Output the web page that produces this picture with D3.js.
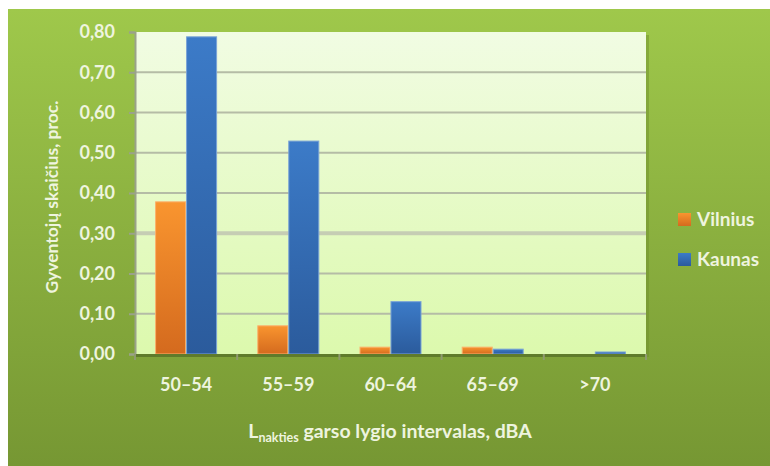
<!DOCTYPE html>
<html><head><meta charset="utf-8">
<script src="https://cdn.jsdelivr.net/npm/d3@7"></script>
<style>body{margin:0;background:#fff}svg{display:block}</style>
</head><body>
<script>
const categories = ["50–54","55–59","60–64","65–69",">70"];
const seriesNames = ["Vilnius","Kaunas"];
const vilnius = [0.378, 0.070, 0.017, 0.017, 0.0];
const kaunas = [0.788, 0.529, 0.130, 0.012, 0.005];
const yTicks = [0,0.1,0.2,0.3,0.4,0.5,0.6,0.7,0.8];

const W=770,H=466;
const FONT="Lato, 'Open Sans', sans-serif", TXT="#eef4df";
const svg=d3.select("body").append("svg").attr("width",W).attr("height",H);
const defs=svg.append("defs");
function grad(id,c1,c2){const g=defs.append("linearGradient").attr("id",id).attr("x1",0).attr("y1",0).attr("x2",0).attr("y2",1);
g.append("stop").attr("offset","0%").attr("stop-color",c1);g.append("stop").attr("offset","100%").attr("stop-color",c2);}
grad("bg","#9fc84b","#769733");
grad("plot","#f1fce3","#dcf9ad");
grad("or","#f9952f","#d46a1e");
grad("bl","#3c7bc8","#2b5b9c");

svg.append("rect").attr("x",8).attr("y",9).attr("width",W-8).attr("height",H-9).attr("fill","url(#bg)");

const m={l:135,r:646,t:32,b:354};
const x=d3.scaleBand().domain(categories).range([m.l,m.r]);
const x1=d3.scaleBand().domain(seriesNames).range([0,61]).paddingInner(0.03);
const y=d3.scaleLinear().domain([0,0.8]).range([m.b,m.t]);

// plot shadow
svg.append("rect").attr("x",m.l+3).attr("y",m.t+3).attr("width",m.r-m.l).attr("height",m.b-m.t).attr("fill","#6f8f2e").attr("opacity",0.5);
svg.append("rect").attr("x",m.l).attr("y",m.t).attr("width",m.r-m.l).attr("height",m.b-m.t).attr("fill","url(#plot)");

// gridlines
svg.append("g").selectAll("line").data(yTicks.filter(d=>d>0 && d<0.8)).join("line")
 .attr("x1",m.l).attr("x2",m.r).attr("y1",d=>y(d)).attr("y2",d=>y(d))
 .attr("stroke",d=>Math.abs(d-0.3)<1e-9?"#c6cdb4":"#b5bca6").attr("stroke-width",d=>Math.abs(d-0.3)<1e-9?4:2);

// y axis
const ya=svg.append("g").attr("transform",`translate(${m.l},0)`).call(d3.axisLeft(y).tickValues(yTicks).tickSize(6).tickPadding(14).tickFormat(d=>d3.format(".2f")(d).replace(".",",")));
ya.select(".domain").attr("stroke","#9aa28a").attr("stroke-width",2);
ya.selectAll(".tick line").attr("stroke","#9aa28a").attr("stroke-width",2);
ya.selectAll("text").attr("fill",TXT).style("font-family",FONT).style("font-size","18px").style("font-weight","bold");

// bars
const data=categories.map((c,i)=>({c,vals:[{s:"Vilnius",v:vilnius[i]},{s:"Kaunas",v:kaunas[i]}]}));
const g=svg.append("g").selectAll("g").data(data).join("g").attr("transform",d=>`translate(${x(d.c)+x.bandwidth()/2-30.5},0)`);
g.selectAll("rect").data(d=>d.vals).join("rect")
 .attr("x",d=>x1(d.s)).attr("width",x1.bandwidth())
 .attr("y",d=>y(d.v)).attr("height",d=>Math.max(0,m.b-y(d.v)))
 .attr("fill",d=>d.s==="Vilnius"?"url(#or)":"url(#bl)")
 .attr("stroke",d=>d.s==="Vilnius"?"#fbb06a":"#7aa3d6").attr("stroke-width",1);

// x axis
const xa=svg.append("g").attr("transform",`translate(0,${m.b})`).call(d3.axisBottom(x).tickSize(0).tickPadding(24));
xa.select(".domain").remove();
svg.append("line").attr("x1",m.l).attr("x2",m.r).attr("y1",m.b+1.5).attr("y2",m.b+1.5).attr("stroke","#5f7b2b").attr("stroke-width",3);
svg.append("g").selectAll("line").data(d3.range(categories.length+1)).join("line")
 .attr("x1",i=>m.l+i*x.step()).attr("x2",i=>m.l+i*x.step()).attr("y1",m.b).attr("y2",m.b+6).attr("stroke","#8e9a6e").attr("stroke-width",2);
xa.selectAll("text").attr("fill",TXT).style("font-family",FONT).style("font-size","18px").style("font-weight","bold");

// axis titles
svg.append("text").attr("transform","translate(58,197) rotate(-90)").attr("text-anchor","middle")
 .attr("fill",TXT).style("font-family",FONT).style("font-size","17.5px").style("font-weight","bold")
 .text("Gyventojų skaičius, proc.");
const xt=svg.append("text").attr("x",390).attr("y",438).attr("text-anchor","middle")
 .attr("fill",TXT).style("font-family",FONT).style("font-size","19.5px").style("font-weight","bold");
xt.append("tspan").text("L");
xt.append("tspan").attr("dy",4).style("font-size","12.5px").text("nakties");
xt.append("tspan").attr("dy",-4).text(" garso lygio intervalas, dBA");

// legend
const lg=svg.append("g").selectAll("g").data(seriesNames).join("g").attr("transform",(d,i)=>`translate(678,${213+i*40})`);
lg.append("rect").attr("width",13).attr("height",13).attr("fill",d=>d==="Vilnius"?"url(#or)":"url(#bl)");
lg.append("text").attr("x",19).attr("y",13).text(d=>d).attr("fill",TXT)
 .style("font-family",FONT).style("font-size","19px").style("font-weight","bold");
</script>
</body></html>
